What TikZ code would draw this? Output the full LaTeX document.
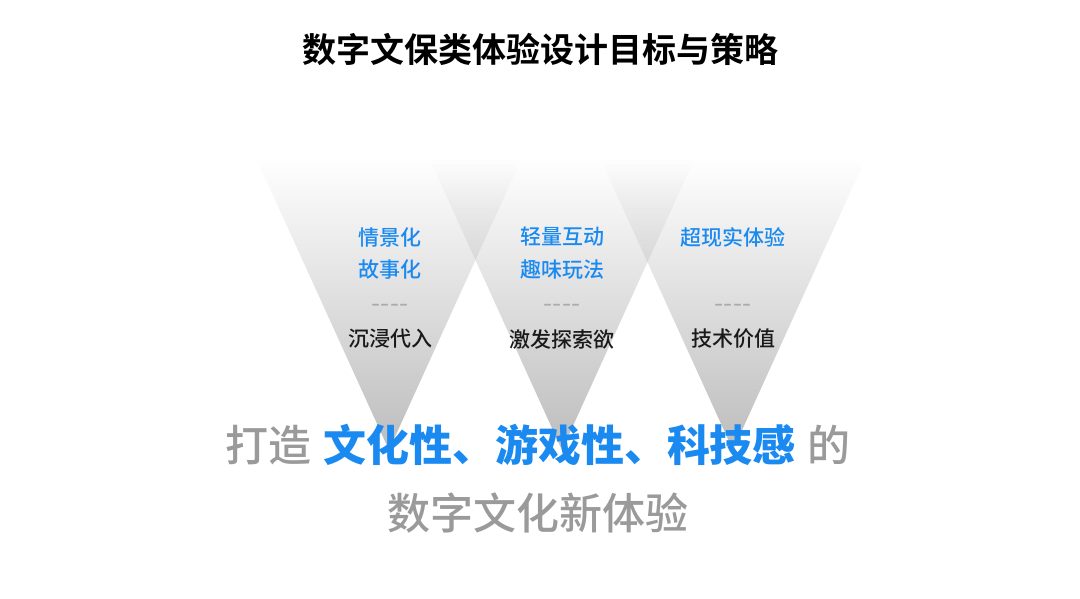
\documentclass[tikz,border=0pt]{standalone}
\usepackage{fontspec}
\usetikzlibrary{fadings}
\setmainfont{Noto Sans CJK SC}[BoldFont={Noto Sans CJK SC Bold}]
\newfontfamily\medfont{Noto Sans CJK SC Medium}
\newfontfamily\plainfont{Noto Sans CJK SC}
\definecolor{cblue}{HTML}{1A8AF0}
\definecolor{cgray}{HTML}{9A9A9A}
\definecolor{cdash}{HTML}{ABABAB}
\definecolor{cblack}{HTML}{1A1A1A}
\definecolor{tri}{HTML}{BDBDBD}
\tikzfading[name=tfade, top color=transparent!100, bottom color=transparent!0]
\tikzset{
  vtri/.style={fill=tri, path fading=tfade},
  bluelab/.style={inner sep=0pt, text=cblue, font=\fontsize{21}{21}\medfont},
  blacklab/.style={inner sep=0pt, text=cblack, font=\fontsize{21}{21}\medfont},
  dashlab/.style={inner sep=0pt, anchor=base, text=cdash, font=\fontsize{26}{26}\plainfont},
  bigline/.style={inner sep=0pt, text=cgray, font=\fontsize{43}{43}\medfont},
  titlelab/.style={inner sep=0pt, text=black, font=\fontsize{34}{34}\selectfont\bfseries}
}
\begin{document}
\begin{tikzpicture}[x=1pt,y=-1pt]
\useasboundingbox (0,0) rectangle (1080,599);
\fill[white] (0,0) rectangle (1080,599);
% triangles
\fill[vtri] (257,160) -- (521,160) -- (389,450) -- cycle;
\fill[vtri] (430,160) -- (694,160) -- (562,450) -- cycle;
\fill[vtri] (601,160) -- (865,160) -- (733,450) -- cycle;
% title
\node[titlelab] (title) at (540,49) {数字文保类体验设计目标与策略};
% column 1
\node[bluelab] (c1a) at (390,237) {情景化};
\node[bluelab] (c1b) at (390,270) {故事化};
\node[dashlab] (c1d) at (390,312) {----};
\node[blacklab] (c1c) at (390,339) {沉浸代入};
% column 2
\node[bluelab] (c2a) at (562,237) {轻量互动};
\node[bluelab] (c2b) at (562,270) {趣味玩法};
\node[dashlab] (c2d) at (562,312) {----};
\node[blacklab] (c2c) at (562,339) {激发探索欲};
% column 3
\node[bluelab] (c3a) at (733,237) {超现实体验};
\node[dashlab] (c3d) at (733,312) {----};
\node[blacklab] (c3c) at (733,339) {技术价值};
% bottom lines
\node[bigline] (line1) at (538,445) {打造\hspace{12pt}{\fontsize{43}{43}\selectfont\bfseries\color{cblue}文化性、游戏性、科技感}\hspace{12pt}的};
\node[bigline] (line2) at (538,513) {数字文化新体验};
\end{tikzpicture}
\end{document}
